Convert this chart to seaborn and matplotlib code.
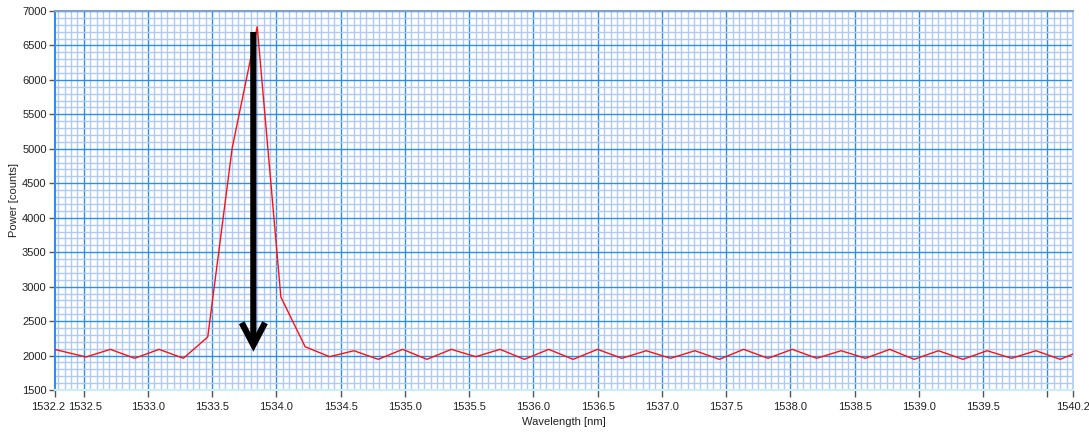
import matplotlib
matplotlib.use("Agg")
import matplotlib.pyplot as plt
from matplotlib.ticker import FixedLocator, MultipleLocator
from matplotlib.transforms import ScaledTranslation
import seaborn as sns


# ---------- DATA ----------

wavelength_nm = [
    1532.276, 1532.517, 1532.707, 1532.896, 1533.086, 1533.275, 1533.465,
    1533.655, 1533.850, 1534.034, 1534.223, 1534.413, 1534.603, 1534.792,
    1534.982, 1535.171, 1535.361, 1535.551, 1535.740, 1535.930, 1536.119,
    1536.309, 1536.499, 1536.688, 1536.878, 1537.067, 1537.257, 1537.447,
    1537.636, 1537.826, 1538.015, 1538.205, 1538.395, 1538.584, 1538.774,
    1538.963, 1539.153, 1539.343, 1539.532, 1539.722, 1539.911, 1540.101,
    1540.200,
]

power_counts = [
    2088, 1979, 2090, 1960, 2090, 1960, 2269,
    5010, 6772, 2850, 2128, 1983, 2070, 1945,
    2090, 1945, 2090, 1983, 2090, 1945, 2090,
    1945, 2090, 1960, 2070, 1960, 2070, 1945,
    2090, 1960, 2090, 1960, 2070, 1960, 2090,
    1945, 2070, 1945, 2070, 1960, 2070, 1945,
    2022,
]

x_tick_values = [1532.276, 1532.5, 1533.0, 1533.5, 1534.0, 1534.5, 1535.0,
                 1535.5, 1536.0, 1536.5, 1537.0, 1537.5, 1538.0, 1538.5,
                 1539.0, 1539.5, 1540.0, 1540.2]
x_tick_labels = ["1532.2", "1532.5", "1533.0", "1533.5", "1534.0", "1534.5",
                 "1535.0", "1535.5", "1536.0", "1536.5", "1537.0", "1537.5",
                 "1538.0", "1538.5", "1539.0", "1539.5", "", "1540.2"]

x_min, x_max = 1532.276, 1540.2
y_min, y_max = 1500, 7000

# marker arrow pointing at the peak
arrow_x = 1533.82
arrow_top = 6695
arrow_bottom = 2056


# ---------- STYLE ----------

sns.set_style("white")
plt.rcParams["font.family"] = ["Liberation Sans", "DejaVu Sans"]
plt.rcParams["font.size"] = 8

MAJOR_GRID = "#2b8ff0"
MINOR_GRID = "#b0caf7"


# ---------- PLOT ----------

fig = plt.figure(figsize=(10.89, 4.33), dpi=100)
ax = fig.add_axes([55 / 1089, 1 - 390 / 433, (1073 - 55) / 1089, (390 - 11) / 433])

sns.lineplot(x=wavelength_nm, y=power_counts, color="#ff1010", linewidth=1.0,
             ax=ax, zorder=3)

ax.set_xlim(x_min, x_max)
ax.set_ylim(y_min, y_max)

ax.xaxis.set_major_locator(FixedLocator(x_tick_values))
ax.set_xticklabels(x_tick_labels)
ax.xaxis.set_minor_locator(MultipleLocator(0.05))
ax.yaxis.set_major_locator(MultipleLocator(500))
ax.yaxis.set_minor_locator(MultipleLocator(100))

ax.set_axisbelow(True)
ax.grid(which="minor", color=MINOR_GRID, linewidth=1.0)
ax.grid(which="major", color=MAJOR_GRID, linewidth=1.0)
# the two end ticks on x carry no major grid line of their own
for gl, xv in zip(ax.get_xgridlines(), x_tick_values):
    if xv in (x_min, x_max):
        gl.set_visible(False)

ax.tick_params(which="minor", length=0)
ax.tick_params(axis="y", which="major", length=4, width=1, color="#555555",
               pad=2, labelsize=8, labelcolor="#222222", left=True)
ax.tick_params(axis="x", which="major", length=5, width=1, color="#555555",
               pad=4, labelsize=8, labelcolor="#222222", bottom=True)

# the first two x labels sit close together, nudge them apart like the original
xlabels = ax.get_xticklabels()
xlabels[0].set_transform(xlabels[0].get_transform()
                         + ScaledTranslation(-7 / 100, 0, fig.dpi_scale_trans))
xlabels[1].set_transform(xlabels[1].get_transform()
                         + ScaledTranslation(1 / 100, 0, fig.dpi_scale_trans))

ax.spines["left"].set_color(MAJOR_GRID)
ax.spines["top"].set_color("#7fa3c8")
ax.spines["right"].set_color("#b9d3f5")
ax.spines["bottom"].set_color("#c8eefc")
for s in ax.spines.values():
    s.set_linewidth(1.5)

ax.set_xlabel("Wavelength [nm]", fontsize=8, color="#222222", labelpad=3)
ax.set_ylabel("Power [counts]", fontsize=8, color="#222222", labelpad=2)

ax.annotate(
    "",
    xy=(arrow_x, arrow_bottom),
    xytext=(arrow_x, arrow_top),
    arrowprops=dict(
        arrowstyle="->,head_length=0.8,head_width=0.42",
        mutation_scale=20,
        lw=4.5,
        color="black",
        shrinkA=0,
        shrinkB=0,
        joinstyle="miter",
        capstyle="butt",
    ),
    zorder=5,
)

fig.savefig("out.png", dpi=100)
